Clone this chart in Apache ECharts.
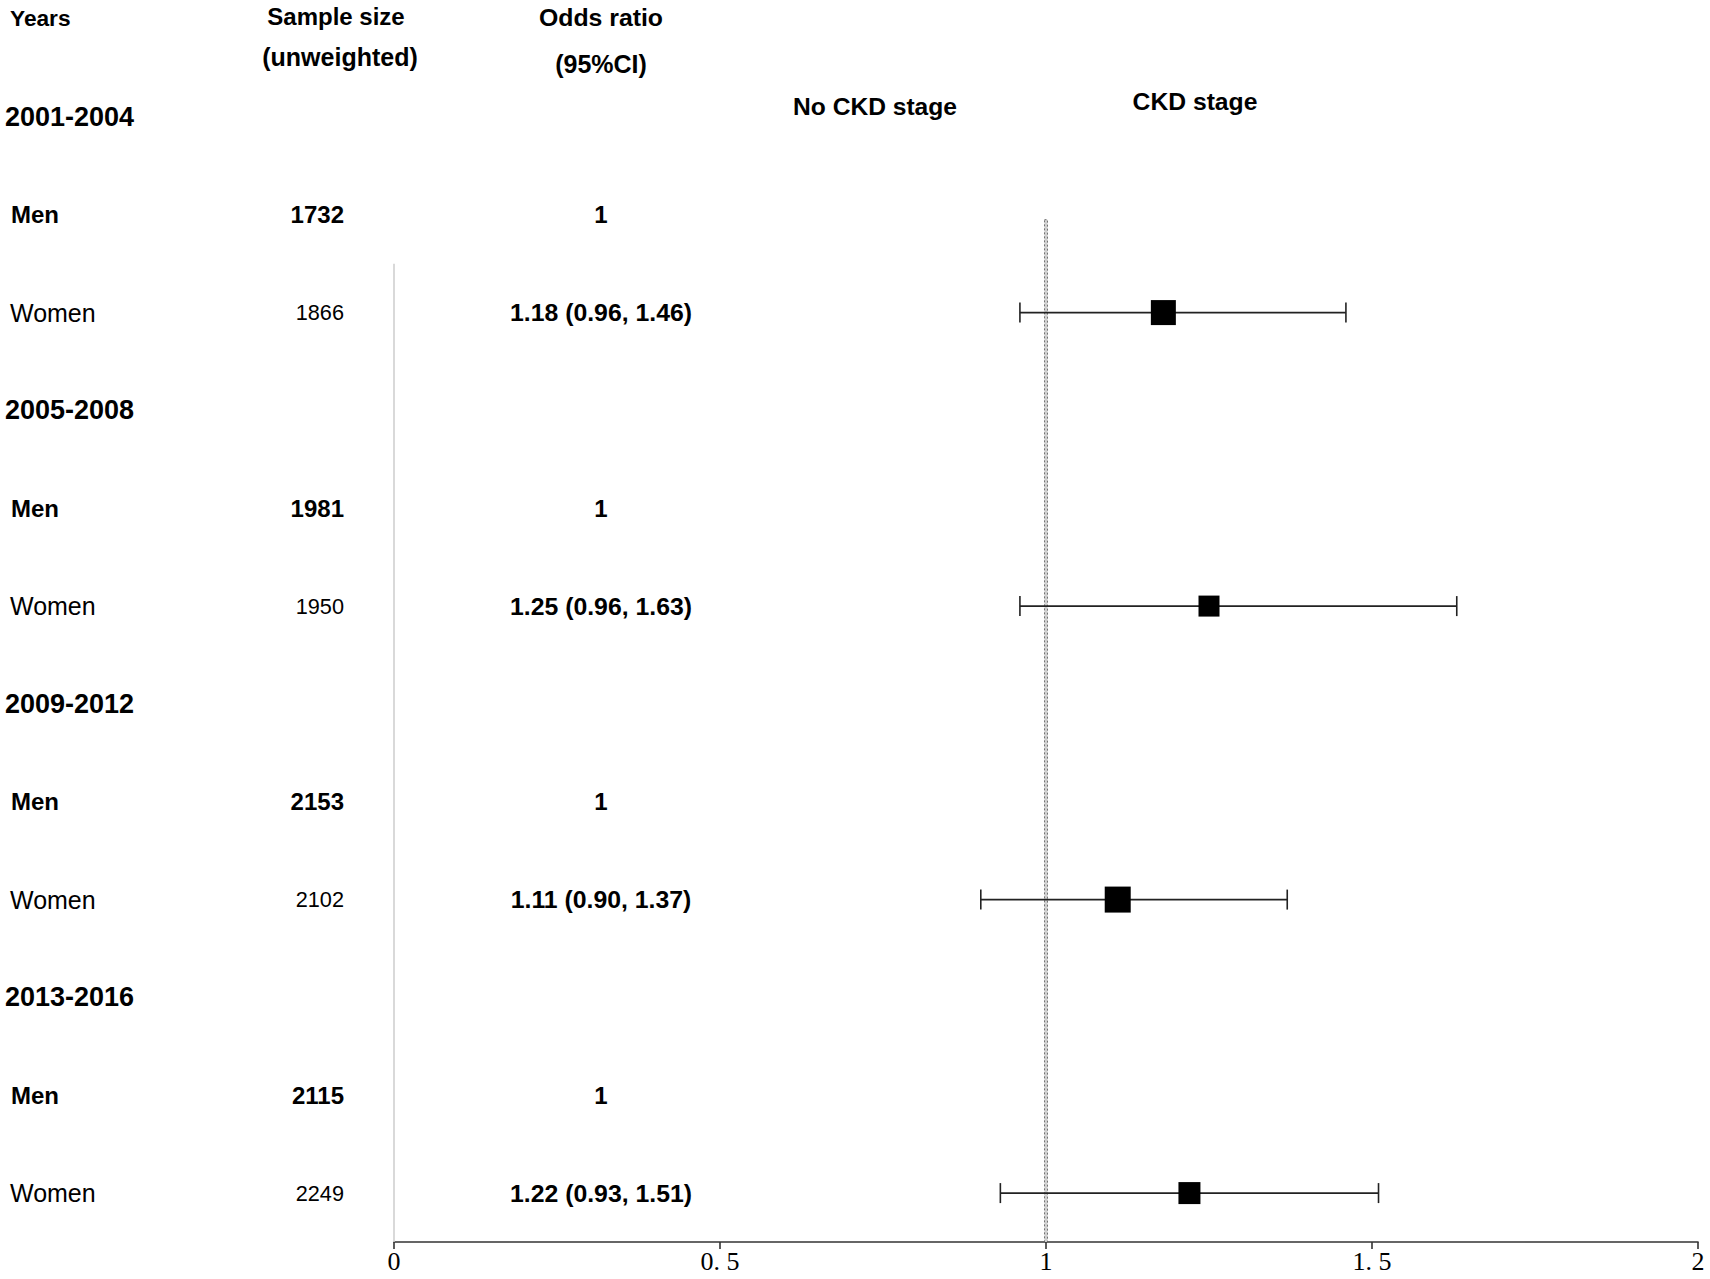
<!DOCTYPE html>
<html><head><meta charset="utf-8">
<style>html,body{margin:0;padding:0;background:#fff}#c{width:1710px;height:1279px}</style>
<script src="https://cdn.jsdelivr.net/npm/echarts@6/dist/echarts.min.js"></script>
</head><body><div id="c"></div>
<script>
// ---- data ----
const periods = ['2001-2004', '2005-2008', '2009-2012', '2013-2016'];
const sexLabels = ['Men', 'Women'];
const sampleMen = [1732, 1981, 2153, 2115];
const sampleWomen = [1866, 1950, 2102, 2249];
const orMen = [1, 1, 1, 1];
const orWomen = [1.18, 1.25, 1.11, 1.22];
const ciLowWomen = [0.96, 0.96, 0.90, 0.93];
const ciHighWomen = [1.46, 1.63, 1.37, 1.51];
const xTicks = [0, 0.5, 1, 1.5, 2];
const refValue = 1;

// ---- style / layout ----
const boxSizes = [25, 21, 26, 22];
const SANS = '"Liberation Sans", Arial, sans-serif';
const SERIF = '"Liberation Serif", "Times New Roman", serif';
const COL = { label: 10, sample: 344, or: 601 };
const GRID_TOP = 68, GRID_BOTTOM = 37;
const NROWS = periods.length * 3;

function fmtOR(o, l, h) { return o.toFixed(2) + ' (' + l.toFixed(2) + ', ' + h.toFixed(2) + ')'; }

// table cells
const cells = [];
periods.forEach((p, i) => {
  const r = i * 3;
  cells.push({ x: COL.label - 5, row: r, text: p, align: 'left', size: 27, weight: 'bold' });
  cells.push({ x: COL.label + 1, row: r + 1, text: sexLabels[0], align: 'left', size: 24, weight: 'bold' });
  cells.push({ x: COL.sample, row: r + 1, text: String(sampleMen[i]), align: 'right', size: 24, weight: 'bold' });
  cells.push({ x: COL.or, row: r + 1, text: String(orMen[i]), align: 'center', size: 24, weight: 'bold' });
  cells.push({ x: COL.label, row: r + 2, text: sexLabels[1], align: 'left', size: 25, weight: 'normal' });
  cells.push({ x: COL.sample, row: r + 2, text: String(sampleWomen[i]), align: 'right', size: 21.7, weight: 'normal' });
  cells.push({ x: COL.or, row: r + 2, text: fmtOR(orWomen[i], ciLowWomen[i], ciHighWomen[i]), align: 'center', size: 24.8, weight: 'bold' });
});

const forestData = periods.map((p, i) => [orWomen[i], ciLowWomen[i], ciHighWomen[i], i * 3 + 2, boxSizes[i]]);

const chart = echarts.init(document.getElementById('c'), null, { renderer: 'svg' });

function hText(text, x, y, align, size, weight) {
  return { type: 'text', x: x, y: y, silent: true,
    style: { text: text, align: align, verticalAlign: 'middle', fontFamily: SANS, fontSize: size, fontWeight: weight || 'bold', fill: '#000' } };
}

chart.setOption({
  animation: false,
  backgroundColor: '#fff',
  grid: [
    { left: 394, right: 12, top: GRID_TOP, bottom: GRID_BOTTOM },
    { left: 0, right: 0, top: GRID_TOP, bottom: GRID_BOTTOM }
  ],
  xAxis: [
    { gridIndex: 0, type: 'value', min: xTicks[0], max: xTicks[xTicks.length - 1], interval: xTicks[1] - xTicks[0],
      splitLine: { show: false },
      axisLine: { show: true, onZero: false, lineStyle: { color: '#333', width: 1.6 } },
      axisTick: { show: true, length: 7, lineStyle: { color: '#333', width: 1.6 } },
      axisLabel: { margin: 6, color: '#000', fontFamily: SERIF, fontSize: 26,
        formatter: v => String(v).replace('.', '. ') } },
    { gridIndex: 1, type: 'value', min: 0, max: 1710, show: false }
  ],
  yAxis: [
    { gridIndex: 0, type: 'value', min: 0, max: NROWS, inverse: true, show: false },
    { gridIndex: 1, type: 'value', min: 0, max: NROWS, inverse: true, show: false }
  ],
  graphic: [
    hText('Years', 10, 18, 'left', 22.7),
    hText('Sample size', 336, 16, 'center', 24),
    hText('(unweighted)', 340, 57, 'center', 25),
    hText('Odds ratio', 601, 17, 'center', 24.8),
    hText('(95%CI)', 601, 64, 'center', 25),
    hText('No CKD stage', 875, 106, 'center', 24.6),
    hText('CKD stage', 1195, 101, 'center', 24.7)
  ],
  series: [
    { // reference line at OR = 1
      type: 'custom', xAxisIndex: 0, yAxisIndex: 0, silent: true,
      data: [[refValue, 1.55, NROWS]],
      renderItem: function (params, api) {
        const a = api.coord([api.value(0), api.value(1)]);
        const b = api.coord([api.value(0), api.value(2)]);
        return { type: 'rect', shape: { x: a[0] - 1.5, y: a[1], width: 3, height: b[1] - a[1] },
          style: { fill: '#cfcfcf', stroke: '#555', lineWidth: 0.8, lineDash: [2, 2] } };
      },
      markLine: {
        silent: true, symbol: ['none', 'none'], label: { show: false },
        lineStyle: { color: '#cccccc', width: 1.5, type: 'solid' },
        data: [[{ coord: [0, 2] }, { coord: [0, NROWS] }]]
      }
    },
    { // error bars and boxes
      type: 'custom', xAxisIndex: 0, yAxisIndex: 0, silent: true,
      data: forestData,
      renderItem: function (params, api) {
        const y = api.coord([0, api.value(3) + 0.5])[1];
        const xo = api.coord([api.value(0), 0])[0];
        const xl = api.coord([api.value(1), 0])[0];
        const xh = api.coord([api.value(2), 0])[0];
        const s = api.value(4);
        const ls = { stroke: '#222', lineWidth: 1.6 };
        return { type: 'group', children: [
          { type: 'line', shape: { x1: xl, y1: y, x2: xh, y2: y }, style: ls },
          { type: 'line', shape: { x1: xl, y1: y - 10, x2: xl, y2: y + 10 }, style: ls },
          { type: 'line', shape: { x1: xh, y1: y - 10, x2: xh, y2: y + 10 }, style: ls },
          { type: 'rect', shape: { x: xo - s / 2, y: y - s / 2, width: s, height: s }, style: { fill: '#000' } }
        ] };
      }
    },
    { // table text
      type: 'custom', xAxisIndex: 1, yAxisIndex: 1, silent: true,
      data: cells.map(c => [c.x, c.row + 0.5]),
      renderItem: function (params, api) {
        const c = cells[params.dataIndex];
        const p = api.coord([api.value(0), api.value(1)]);
        return { type: 'text', x: p[0], y: p[1],
          style: { text: c.text, align: c.align, verticalAlign: 'middle', fontFamily: SANS,
            fontSize: c.size, fontWeight: c.weight, fill: '#000' } };
      }
    }
  ]
});
</script></body></html>
